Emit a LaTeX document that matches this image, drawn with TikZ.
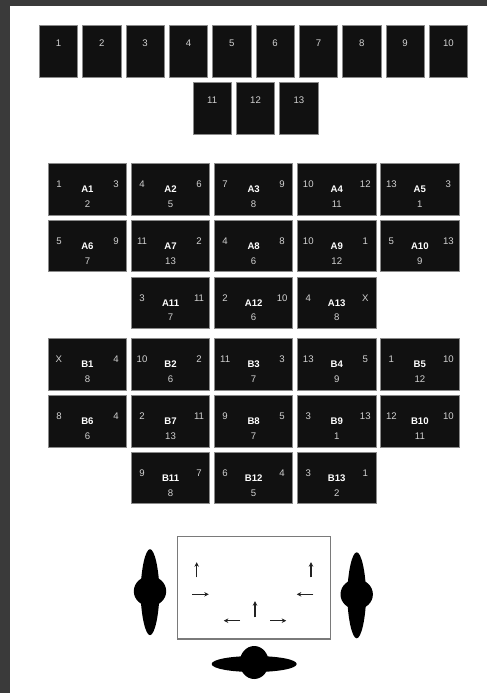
\documentclass[tikz,border=0pt]{standalone}
\usepackage{fontspec}
\setmainfont{Liberation Sans}
\usetikzlibrary{arrows.meta}
\definecolor{framegray}{HTML}{3A3A3A}
\definecolor{boxfill}{HTML}{111111}
\definecolor{boxedge}{HTML}{8A8A8A}
\definecolor{numcol}{HTML}{D2D2D2}
\definecolor{tableedge}{HTML}{7A7A7A}
\definecolor{arrowcol}{HTML}{222222}
\newcommand\seatcell[7]{%
  \node[cell] (#1) at (#2,#3) {#4};
  \node[num] (#1-l) at ([shift={(-28.5,-4.85)}]#1.center) {#5};
  \node[num] (#1-r) at ([shift={(28.5,-4.85)}]#1.center) {#6};
  \node[num] (#1-b) at ([shift={(0,14.85)}]#1.center) {#7};
}
\newcommand\personshape[3]{% x, y, rotation
  \begin{scope}[shift={(#1,#2)}, rotate=#3]
    \fill[black] (0,-43) .. controls (4.5,-43) and (9,-24) .. (9.5,0)
      .. controls (9,24) and (4.5,43) .. (0,43)
      .. controls (-4.5,43) and (-9,24) .. (-9.5,0)
      .. controls (-9,-24) and (-4.5,-43) .. (0,-43) -- cycle;
    \fill[black] (0,-1) ellipse [x radius=16.2pt, y radius=15pt];
  \end{scope}
}
\begin{document}
\begin{tikzpicture}[x=1pt,y=-1pt,
  seat/.style={draw=boxedge, fill=boxfill, line width=0.7pt, inner sep=0pt,
    minimum width=38.4pt, minimum height=52pt},
  cell/.style={draw=boxedge, fill=boxfill, line width=0.7pt, inner sep=0pt,
    minimum width=78.3pt, minimum height=51.7pt, text=white,
    font=\fontsize{9.6}{9.6}\selectfont\bfseries},
  num/.style={text=numcol, font=\fontsize{9.6}{9.6}\selectfont, inner sep=0pt},
  mover/.style={draw=arrowcol, line width=1.3pt, -{Stealth[length=4.5pt,width=4.5pt]}}]
\useasboundingbox (0,0) rectangle (487,693);
\fill[white] (0,0) rectangle (487,693);
\fill[framegray] (0,0) rectangle (10,693);
\fill[framegray] (0,0) rectangle (487,6);

% top row of seats
\foreach \i in {1,...,10}{
  \node[seat] (s\i) at ({58.5+43.33*(\i-1)},51.7) {};
  \node[num] (s\i-t) at ([yshift=-17.6pt]s\i.north) {\i};
}
\foreach \i/\xx in {11/212.2,12/255.5,13/298.9}{
  \node[seat] (s\i) at (\xx,108.5) {};
  \node[num] (s\i-t) at ([yshift=-17.6pt]s\i.north) {\i};
}

% A grid
\seatcell{A1}{87.45}{189.15}{A1}{1}{3}{2}
\seatcell{A2}{170.55}{189.15}{A2}{4}{6}{5}
\seatcell{A3}{253.65}{189.15}{A3}{7}{9}{8}
\seatcell{A4}{336.75}{189.15}{A4}{10}{12}{11}
\seatcell{A5}{419.85}{189.15}{A5}{13}{3}{1}
\seatcell{A6}{87.45}{245.95}{A6}{5}{9}{7}
\seatcell{A7}{170.55}{245.95}{A7}{11}{2}{13}
\seatcell{A8}{253.65}{245.95}{A8}{4}{8}{6}
\seatcell{A9}{336.75}{245.95}{A9}{10}{1}{12}
\seatcell{A10}{419.85}{245.95}{A10}{5}{13}{9}
\seatcell{A11}{170.55}{302.75}{A11}{3}{11}{7}
\seatcell{A12}{253.65}{302.75}{A12}{2}{10}{6}
\seatcell{A13}{336.75}{302.75}{A13}{4}{X}{8}

% B grid
\seatcell{B1}{87.45}{364.3}{B1}{X}{4}{8}
\seatcell{B2}{170.55}{364.3}{B2}{10}{2}{6}
\seatcell{B3}{253.65}{364.3}{B3}{11}{3}{7}
\seatcell{B4}{336.75}{364.3}{B4}{13}{5}{9}
\seatcell{B5}{419.85}{364.3}{B5}{1}{10}{12}
\seatcell{B6}{87.45}{421.1}{B6}{8}{4}{6}
\seatcell{B7}{170.55}{421.1}{B7}{2}{11}{13}
\seatcell{B8}{253.65}{421.1}{B8}{9}{5}{7}
\seatcell{B9}{336.75}{421.1}{B9}{3}{13}{1}
\seatcell{B10}{419.85}{421.1}{B10}{12}{10}{11}
\seatcell{B11}{170.55}{477.9}{B11}{9}{7}{8}
\seatcell{B12}{253.65}{477.9}{B12}{6}{4}{5}
\seatcell{B13}{336.75}{477.9}{B13}{3}{1}{2}

% table with movement arrows
\node[draw=tableedge, line width=1.1pt, minimum width=153.4pt, minimum height=102.3pt, inner sep=0pt] (table) at (254,587.85) {};
\draw[mover] (196.7,577.3) -- (196.7,562.2);
\draw[mover] (192.3,594.3) -- (208.8,594.3);
\draw[mover] (311,577.3) -- (311,562.2);
\draw[mover] (313.3,594.3) -- (296.8,594.3);
\draw[mover] (255,617.3) -- (255,601.2);
\draw[mover] (240,620.7) -- (223.8,620.7);
\draw[mover] (270,620.7) -- (286.2,620.7);

% figures
\personshape{150}{592.2}{0}
\personshape{356.7}{595.3}{0}
\begin{scope}[shift={(254.2,664)}]
  \fill[black] (-42.5,0) .. controls (-42.5,-4.5) and (-24,-8) .. (0,-8)
    .. controls (24,-8) and (42.5,-4.5) .. (42.5,0)
    .. controls (42.5,4.5) and (24,8) .. (0,8)
    .. controls (-24,8) and (-42.5,4.5) .. (-42.5,0) -- cycle;
  \fill[black] (0,-1.5) ellipse [x radius=14.5pt, y radius=16.5pt];
\end{scope}
\end{tikzpicture}
\end{document}
